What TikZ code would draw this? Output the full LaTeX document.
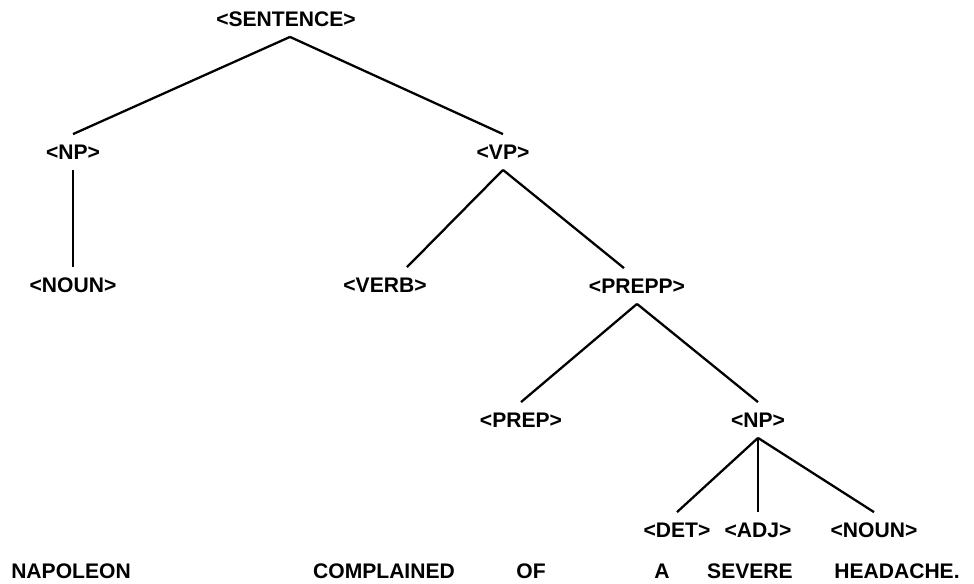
\documentclass[tikz,border=0pt]{standalone}
\usepackage{fontspec}
\setmainfont{Liberation Sans}
\begin{document}
\begin{tikzpicture}[x=0.02cm,y=-0.02cm,
  cat/.style={font=\bfseries\fontsize{12}{14}\selectfont, inner xsep=1pt, inner ysep=0.2cm, text height=8.6pt, text depth=0pt},
  word/.style={font=\bfseries\fontsize{12}{14}\selectfont, inner sep=0pt},
  branch/.style={line width=1.3pt}]
\useasboundingbox (0,0) rectangle (974,583);

\node[cat] (sentence) at (286,19) {<SENTENCE>};
\node[cat] (np) at (73,152) {<NP>};
\node[cat] (vp) at (503,152) {<VP>};
\node[cat] (noun) at (73,285) {<NOUN>};
\node[cat] (verb) at (385,285) {<VERB>};
\node[cat] (prepp) at (637,286) {<PREPP>};
\node[cat] (prep) at (521,420) {<PREP>};
\node[cat] (nptwo) at (758,420) {<NP>};
\node[cat] (det) at (677,530) {<DET>};
\node[cat] (adj) at (758,530) {<ADJ>};
\node[cat] (nountwo) at (874,530) {<NOUN>};

\node[word] (napoleon) at (71,571) {NAPOLEON};
\node[word] (complained) at (384,571) {COMPLAINED};
\node[word] (of) at (531,571) {OF};
\node[word] (a) at (662,571) {A};
\node[word] (severe) at (750,571) {SEVERE};
\node[word] (headache) at (897,571) {HEADACHE.};

\draw[branch] ([xshift=0.08cm]sentence.south) -- (np.north);
\draw[branch] ([xshift=0.08cm]sentence.south) -- (vp.north);
\draw[branch] (np.south) -- (noun.north);
\draw[branch] (vp.south) -- ([xshift=0.44cm]verb.north);
\draw[branch] (vp.south) -- ([xshift=-0.26cm]prepp.north);
\draw[branch] (prepp.south) -- (prep.north);
\draw[branch] (prepp.south) -- (nptwo.north);
\draw[branch] (nptwo.south) -- (det.north);
\draw[branch] (nptwo.south) -- (adj.north);
\draw[branch] (nptwo.south) -- (nountwo.north);
\end{tikzpicture}
\end{document}
